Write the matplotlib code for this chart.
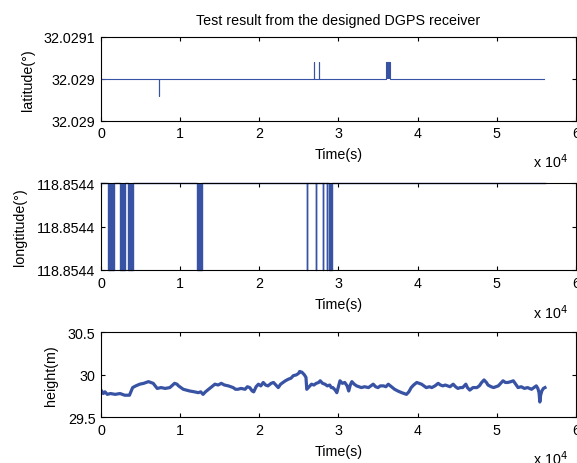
import numpy as np
import matplotlib.pyplot as plt

plt.rcParams['font.family'] = ['Liberation Sans', 'DejaVu Sans']
plt.rcParams['font.size'] = 10.3

blue = '#3953a4'

# latitude: constant level with a few short jumps
lat_end = 56000
lat_base = 32.02900
lat_spikes = [(7370, 7370, 32.02898), (26870, 26870, 32.02902),
              (27540, 27540, 32.02902), (36000, 36550, 32.02902)]
lat_ticks = [32.02895, 32.02900, 32.02905]
lat_ticklabels = ['32.029', '32.029', '32.0291']

# longitude: top level with dips down to the lower value
lon_end = 56100
lon_top = 118.85440
lon_low = 118.85439
lon_dips = [(920, 1680), (2400, 3070), (3450, 4040), (12090, 12760),
            (26060, 26060), (27160, 27160), (28080, 28080), (28510, 28510),
            (28840, 29200)]
lon_ticklabels = ['118.8544', '118.8544', '118.8544']

# height (m): (time in 1e4 s, height)
height_pts = [
    (0.00, 29.82), (0.03, 29.78), (0.05, 29.80), (0.08, 29.77), (0.12, 29.78),
    (0.18, 29.77), (0.24, 29.78), (0.30, 29.76), (0.36, 29.76), (0.40, 29.85),
    (0.44, 29.87), (0.49, 29.89), (0.54, 29.90), (0.60, 29.92), (0.63, 29.91),
    (0.66, 29.90), (0.71, 29.84), (0.76, 29.85), (0.81, 29.84), (0.87, 29.85),
    (0.93, 29.90), (0.96, 29.89), (0.98, 29.87), (1.04, 29.83), (1.08, 29.82),
    (1.12, 29.81), (1.18, 29.80), (1.23, 29.79), (1.26, 29.80), (1.29, 29.77),
    (1.32, 29.80), (1.36, 29.83), (1.40, 29.86), (1.44, 29.89), (1.48, 29.88),
    (1.52, 29.90), (1.56, 29.88), (1.61, 29.87), (1.64, 29.86), (1.67, 29.85),
    (1.70, 29.83), (1.73, 29.83), (1.77, 29.84), (1.82, 29.83), (1.85, 29.86),
    (1.88, 29.85), (1.91, 29.81), (1.93, 29.80), (1.96, 29.86), (1.99, 29.89),
    (2.02, 29.87), (2.05, 29.91), (2.08, 29.88), (2.11, 29.87), (2.15, 29.90),
    (2.18, 29.91), (2.21, 29.88), (2.24, 29.85), (2.27, 29.89), (2.30, 29.91),
    (2.33, 29.93), (2.37, 29.95), (2.40, 29.96), (2.43, 29.99), (2.47, 30.00),
    (2.50, 30.02), (2.51, 30.04), (2.54, 30.03), (2.57, 30.00), (2.59, 29.97),
    (2.60, 29.83), (2.63, 29.86), (2.66, 29.89), (2.69, 29.88), (2.72, 29.90),
    (2.75, 29.91), (2.77, 29.93), (2.80, 29.90), (2.83, 29.89), (2.86, 29.87),
    (2.89, 29.88), (2.91, 29.85), (2.93, 29.85), (2.96, 29.82), (2.98, 29.79),
    (3.00, 29.86), (3.02, 29.93), (3.05, 29.90), (3.08, 29.91), (3.11, 29.87),
    (3.13, 29.81), (3.15, 29.88), (3.17, 29.92), (3.20, 29.89), (3.23, 29.87),
    (3.26, 29.86), (3.29, 29.85), (3.33, 29.86), (3.38, 29.85), (3.41, 29.87),
    (3.44, 29.89), (3.47, 29.86), (3.50, 29.85), (3.53, 29.87), (3.57, 29.87),
    (3.60, 29.86), (3.63, 29.89), (3.67, 29.86), (3.71, 29.83), (3.75, 29.81),
    (3.80, 29.79), (3.83, 29.78), (3.86, 29.77), (3.89, 29.80), (3.92, 29.85),
    (3.95, 29.88), (3.99, 29.91), (4.02, 29.90), (4.05, 29.89), (4.08, 29.87),
    (4.11, 29.85), (4.15, 29.86), (4.18, 29.85), (4.22, 29.87), (4.26, 29.90),
    (4.29, 29.88), (4.32, 29.87), (4.35, 29.88), (4.38, 29.87), (4.41, 29.86),
    (4.45, 29.89), (4.48, 29.86), (4.51, 29.84), (4.54, 29.85), (4.57, 29.85),
    (4.61, 29.89), (4.63, 29.85), (4.66, 29.82), (4.70, 29.85), (4.75, 29.85),
    (4.78, 29.87), (4.81, 29.91), (4.84, 29.94), (4.87, 29.91), (4.89, 29.88),
    (4.93, 29.86), (4.96, 29.85), (4.99, 29.86), (5.02, 29.87), (5.05, 29.90),
    (5.08, 29.93), (5.11, 29.91), (5.14, 29.91), (5.18, 29.92), (5.21, 29.93),
    (5.24, 29.89), (5.27, 29.85), (5.31, 29.86), (5.35, 29.84), (5.39, 29.85),
    (5.44, 29.83), (5.47, 29.85), (5.50, 29.87), (5.52, 29.84), (5.535, 29.79),
    (5.545, 29.68), (5.555, 29.76), (5.57, 29.81), (5.59, 29.84), (5.61, 29.85),
]


def step_series(end, base, events):
    # turn (start, stop, level) events into a stepped line
    t, v = [0], [base]
    for s, e, lev in events:
        t += [s, s, e, e]
        v += [base, lev, lev, base]
    t.append(end)
    v.append(base)
    return np.array(t), np.array(v)


fig = plt.figure(figsize=(5.77, 4.64), dpi=100)
ax1 = fig.add_axes([0.175, 0.7377, 0.823, 0.181])
ax2 = fig.add_axes([0.175, 0.416, 0.823, 0.187])
ax3 = fig.add_axes([0.175, 0.0985, 0.823, 0.183])

# latitude
t, v = step_series(lat_end, lat_base, lat_spikes)
ax1.plot(t, v, color=blue, lw=0.8)
for s, e, lev in lat_spikes:
    if e > s:
        ax1.fill_between([s, e], lat_base, lev, color=blue, lw=0)
ax1.set_ylim(lat_ticks[0], lat_ticks[-1])
ax1.set_yticks(lat_ticks)
ax1.set_yticklabels(lat_ticklabels)
ax1.set_ylabel('latitude(°)')
ax1.yaxis.set_label_coords(-0.139, 0.5)
ax1.set_title('Test result from the designed DGPS receiver', pad=9, fontsize=10.3)

# longitude
t, v = step_series(lon_end, lon_top, [(s, e, lon_low) for s, e in lon_dips])
ax2.plot(t, v, color=blue, lw=1.0, clip_on=False)
for s, e in lon_dips:
    if e > s:
        ax2.fill_between([s, e], lon_low, lon_top, color=blue, lw=0)
ax2.set_ylim(lon_low, lon_top)
ax2.set_yticks([lon_low, (lon_low + lon_top) / 2, lon_top])
ax2.set_yticklabels(lon_ticklabels)
ax2.set_ylabel('longtitude(°)')
ax2.yaxis.set_label_coords(-0.156, 0.5)

# height
h_t = np.array([p[0] for p in height_pts]) * 1e4
h_v = np.array([p[1] for p in height_pts])
ax3.plot(h_t, h_v, color=blue, lw=2.3)
ax3.set_ylim(29.5, 30.5)
ax3.set_yticks([29.5, 30, 30.5])
ax3.set_yticklabels(['29.5', '30', '30.5'])
ax3.set_ylabel('height(m)')
ax3.yaxis.set_label_coords(-0.09, 0.5)

for ax in (ax1, ax2, ax3):
    ax.set_xlim(0, 60000)
    ax.set_xticks(np.arange(0, 60001, 10000))
    ax.set_xticklabels(['0', '1', '2', '3', '4', '5', '6'])
    ax.tick_params(direction='in', length=3, top=True, right=True, labelsize=10.3, pad=4)
    ax.set_xlabel('Time(s)')
    ax.xaxis.set_label_coords(0.5, -0.31)
    ax.text(0.909, -0.48, r'x 10$^4$', transform=ax.transAxes, va='center', fontsize=10.3)
    for sp in ax.spines.values():
        sp.set_linewidth(0.8)

fig.savefig('out.png', dpi=100)
